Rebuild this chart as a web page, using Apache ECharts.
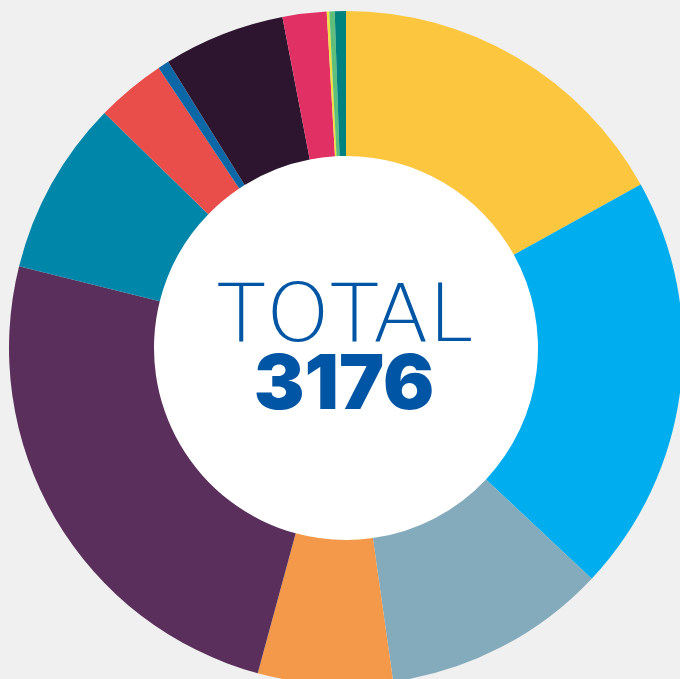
<!DOCTYPE html>
<html>
<head>
<meta charset="utf-8">
<script src="https://cdn.jsdelivr.net/npm/echarts@6/dist/echarts.min.js"></script>
<style>
  html, body { margin: 0; padding: 0; background: #f0f0f0; }
  #chart { width: 680px; height: 679px; }
</style>
</head>
<body>
<div id="chart"></div>
<script>
// slices, clockwise from 12 o'clock
const categories = ['S1', 'S2', 'S3', 'S4', 'S5', 'S6', 'S7', 'S8', 'S9', 'S10', 'S11', 'S12', 'S13'];
const values = [538, 637, 342, 205, 784, 266, 106, 17, 185, 67, 4, 8, 17];
const colors = ['#fcc63e', '#00adee', '#84abbb', '#f4994a', '#5a2f5c', '#0086a9', '#e94e4a',
  '#0b67a6', '#2d1530', '#e03064', '#f0e040', '#5fbf7a', '#00827f'];
const totalLabel = 'TOTAL';
const total = values.reduce((a, b) => a + b, 0);

const chart = echarts.init(document.getElementById('chart'));

const option = {
  backgroundColor: '#f0f0f0',
  animation: false,
  color: colors,
  graphic: [
    {
      type: 'circle',
      shape: { cx: 346, cy: 348, r: 192.5 },
      style: { fill: '#ffffff' },
      z: 0
    },
    {
      type: 'text',
      x: 345, y: 320,
      z: 10,
      style: {
        text: totalLabel,
        fill: '#0055a5',
        font: '200 81px "DejaVu Sans"',
        textAlign: 'center',
        textVerticalAlign: 'middle'
      }
    },
    {
      type: 'text',
      x: 344, y: 386,
      z: 10,
      style: {
        text: String(total),
        fill: '#0055a5',
        font: '900 76px Inter',
        textAlign: 'center',
        textVerticalAlign: 'middle'
      }
    }
  ],
  series: [{
    type: 'pie',
    center: [346, 348],
    radius: [192, 337],
    startAngle: 90,
    clockwise: true,
    label: { show: false },
    labelLine: { show: false },
    emphasis: { disabled: true },
    itemStyle: { borderWidth: 0 },
    data: categories.map((c, i) => ({ name: c, value: values[i] }))
  }]
};

chart.setOption(option);
</script>
</body>
</html>
